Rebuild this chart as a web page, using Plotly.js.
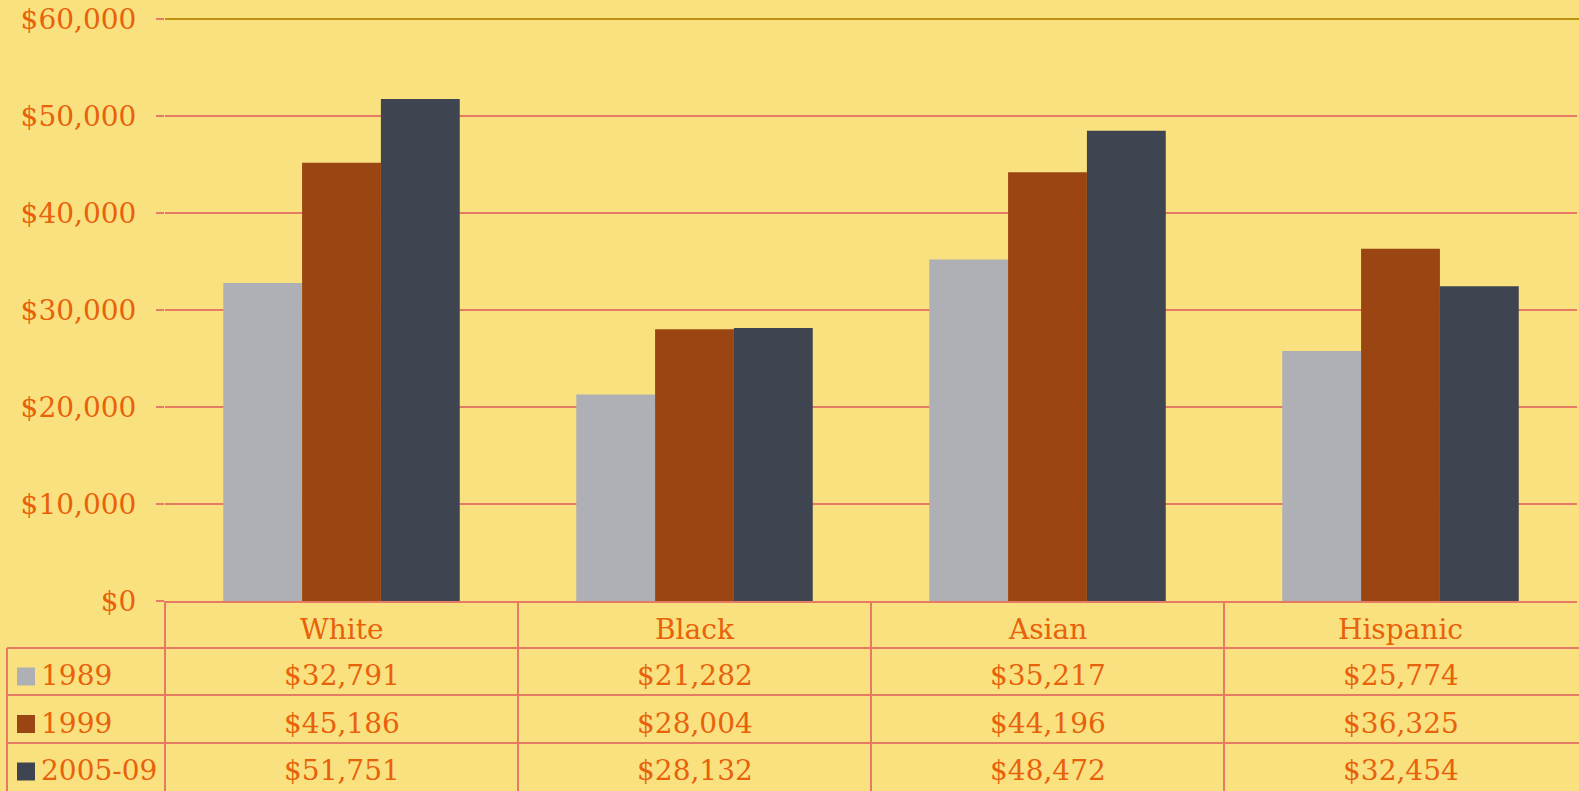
<!DOCTYPE html>
<html><head><meta charset="utf-8">
<script src="https://cdn.plot.ly/plotly-3.0.1.min.js"></script>
<style>html,body{margin:0;padding:0;background:#F9E17F;}#chart{width:1579px;height:791px;}</style>
</head><body><div id="chart"></div>
<script>
const categories = ["White", "Black", "Asian", "Hispanic"];
const seriesNames = ["1989", "1999", "2005-09"];
const values1989 = [32791, 21282, 35217, 25774];
const values1999 = [45186, 28004, 44196, 36325];
const values2005 = [51751, 28132, 48472, 32454];
const tickVals = [0, 10000, 20000, 30000, 40000, 50000, 60000];

const seriesValues = [values1989, values1999, values2005];
const colors = ["#AEB0B5", "#9B4513", "#3F4550"];
const textColor = "#E8610B";
const lineColor = "#E57B65";
const font = "DejaVu Serif";
const fsize = 28;

const W = 1579, H = 791, L = 165, R = 2, T = 19, B = 190;
const pw = W - L - R, ph = H - T - B;
const px = p => (p - L) / pw;
const py = p => (H - B - p) / ph;
const fmt = v => "$" + v.toLocaleString("en-US");

const traces = seriesValues.map((vals, i) => ({
  type: "bar", x: categories, y: vals, name: seriesNames[i],
  marker: {color: colors[i], line: {width: 0}}, hoverinfo: "none"
}));

const shapes = [];
const annotations = [];
const line = (x0, y0, x1, y1, color) => shapes.push({type: "line", xref: "paper", yref: "paper",
  x0: x0, y0: y0, x1: x1, y1: y1, line: {color: color || lineColor, width: 2}, layer: "above"});

// top border
line(0, 1, px(1581), 1, "#C0900F");
// table horizontal lines
[648, 695, 743].forEach(p => line(px(7), py(p), px(1581), py(p)));
// table vertical lines
line(0, 0, 0, py(791));
for (let i = 1; i < categories.length; i++) line(i / categories.length, 0, i / categories.length, py(791));
line(px(7), py(648), px(7), py(791));

const rowCenters = [675.5, 723, 770.5];
categories.forEach((c, j) => {
  const xc = (j + 0.5) / categories.length;
  annotations.push({xref: "paper", yref: "paper", x: xc, y: py(629), text: c, showarrow: false,
    font: {family: font, size: fsize, color: textColor}, xanchor: "center", yanchor: "middle"});
  seriesValues.forEach((vals, i) => {
    annotations.push({xref: "paper", yref: "paper", x: xc, y: py(rowCenters[i]), text: fmt(vals[j]), showarrow: false,
      font: {family: font, size: fsize, color: textColor}, xanchor: "center", yanchor: "middle"});
  });
});
seriesNames.forEach((n, i) => {
  const yc = rowCenters[i];
  shapes.push({type: "rect", xref: "paper", yref: "paper", x0: px(17), x1: px(35), y0: py(yc - 8), y1: py(yc + 10),
    fillcolor: colors[i], line: {width: 0}, layer: "above"});
  annotations.push({xref: "paper", yref: "paper", x: px(39), y: py(yc), text: n, showarrow: false,
    font: {family: font, size: fsize, color: textColor}, xanchor: "left", yanchor: "middle"});
});

const layout = {
  width: W, height: H, margin: {l: L, r: R, t: T, b: B, pad: 0},
  paper_bgcolor: "#F9E17F", plot_bgcolor: "#F9E17F",
  barmode: "group", bargap: 0.33, bargroupgap: 0, showlegend: false,
  xaxis: {range: [-0.5, 3.5], showticklabels: false, showgrid: false, zeroline: false,
    showline: true, linecolor: lineColor, linewidth: 2, ticks: ""},
  yaxis: {range: [0, 60000], tickvals: tickVals, ticktext: tickVals.map(fmt),
    tickfont: {family: font, size: fsize, color: textColor},
    showgrid: true, gridcolor: lineColor, gridwidth: 2, zeroline: false,
    showline: false, ticks: "outside", ticklen: 8, tickwidth: 2, tickcolor: lineColor, ticklabelstandoff: 14},
  shapes: shapes, annotations: annotations
};
Plotly.newPlot("chart", traces, layout, {staticPlot: true});
</script></body></html>
